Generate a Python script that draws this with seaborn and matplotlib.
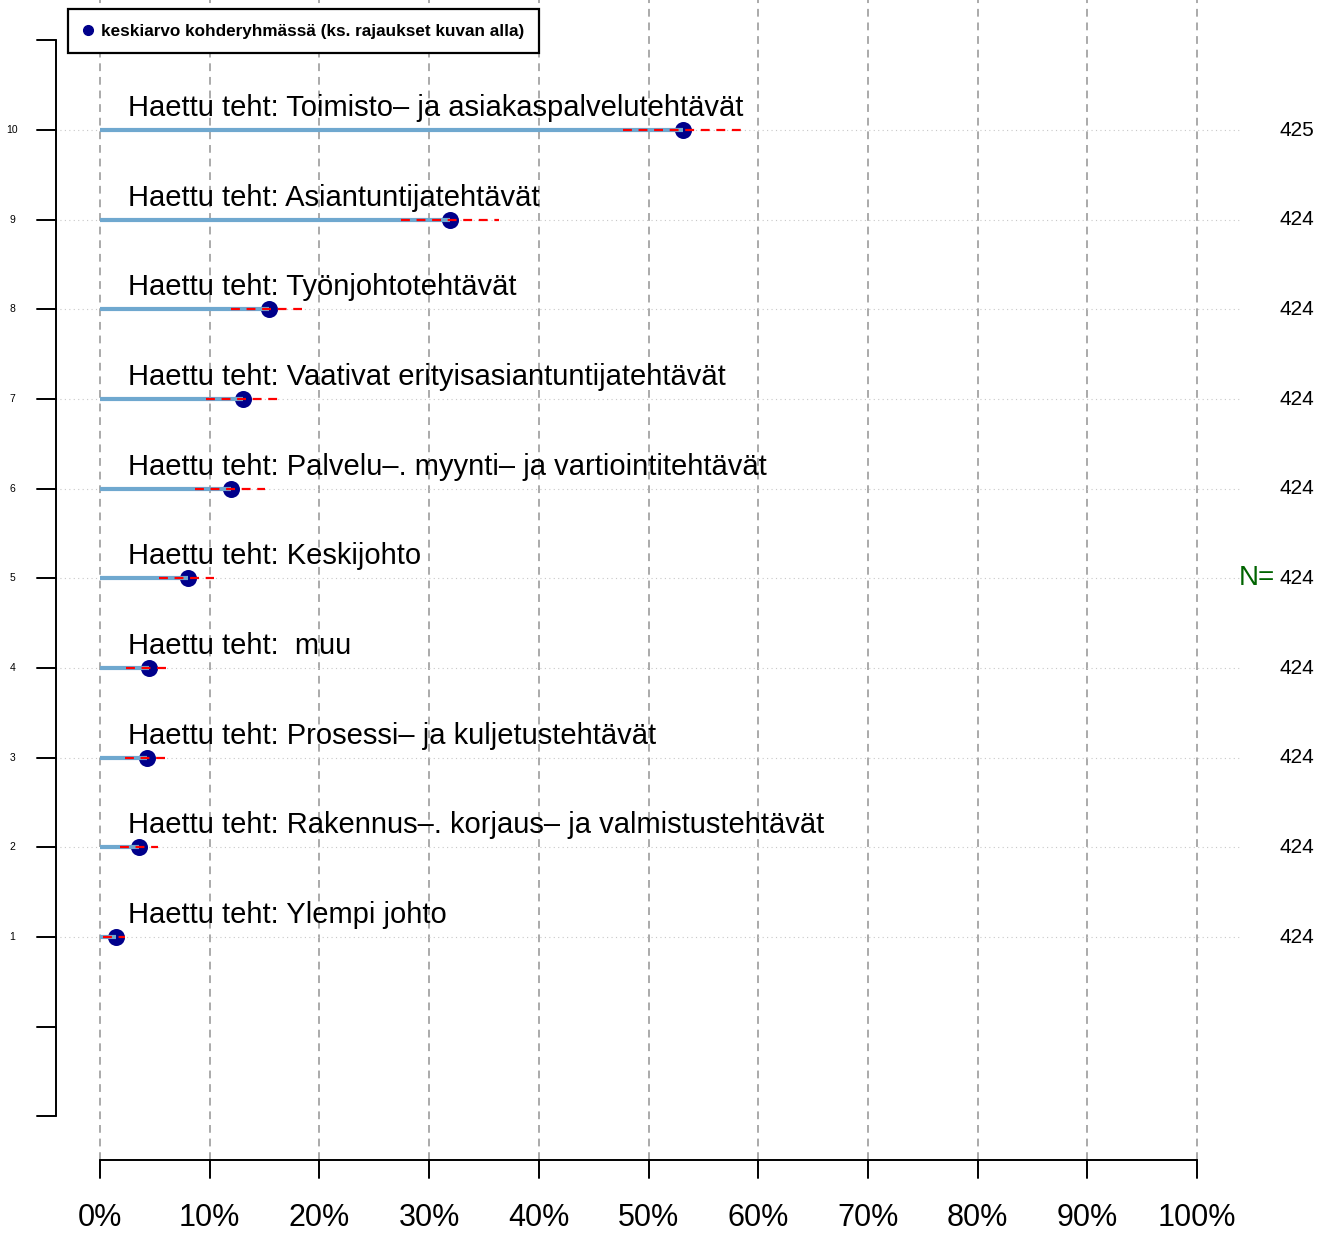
import matplotlib
matplotlib.use("Agg")
import matplotlib.pyplot as plt
import seaborn as sns
import pandas as pd
from matplotlib.lines import Line2D

sns.set_style("white")
plt.rcParams['font.family'] = ['Liberation Sans', 'DejaVu Sans']
plt.rcParams['text.color'] = 'black'

# data, row 10 at the top down to row 1
rows = [10, 9, 8, 7, 6, 5, 4, 3, 2, 1]
labels = [
    "Haettu teht: Toimisto\u2013 ja asiakaspalvelutehtävät",
    "Haettu teht: Asiantuntijatehtävät",
    "Haettu teht: Työnjohtotehtävät",
    "Haettu teht: Vaativat erityisasiantuntijatehtävät",
    "Haettu teht: Palvelu\u2013. myynti\u2013 ja vartiointitehtävät",
    "Haettu teht: Keskijohto",
    "Haettu teht:  muu",
    "Haettu teht: Prosessi\u2013 ja kuljetustehtävät",
    "Haettu teht: Rakennus\u2013. korjaus\u2013 ja valmistustehtävät",
    "Haettu teht: Ylempi johto",
]
means = [53.1, 31.9, 15.4, 13.0, 11.9, 8.0, 4.5, 4.25, 3.6, 1.45]
ci_low = [47.7, 27.4, 11.9, 9.7, 8.7, 5.4, 2.4, 2.3, 1.8, 0.25]
ci_high = [58.7, 36.4, 18.4, 16.2, 15.0, 10.4, 6.1, 5.9, 5.3, 2.3]
n_values = [425, 424, 424, 424, 424, 424, 424, 424, 424, 424]
xticks = list(range(0, 101, 10))

df = pd.DataFrame({"row": rows, "label": labels, "mean": means,
                   "lo": ci_low, "hi": ci_high, "n": n_values})

fig = plt.figure(figsize=(13.3, 12.34), dpi=100)
ax = fig.add_axes([0, 0, 1, 1])
ax.set_xlim(-9.116, 112.12)
ax.set_ylim(-2.312, 11.45)
ax.axis("off")

# vertical dashed grid
for t in xticks:
    ax.plot([t, t], [-1.487, 11.45], color="#AAAAAA", lw=1.4,
            dashes=(4, 3), zorder=1)

# horizontal dotted guides
for r in rows:
    ax.plot([-4.5, 103.9], [r, r], color="#C8C8C8", lw=0.8,
            dashes=(1, 3), zorder=1)

# means (drawn first, the bars go over them)
sns.scatterplot(data=df, x="mean", y="row", ax=ax, s=150, color="#00008B",
                edgecolor="#00008B", linewidth=0, zorder=3, legend=False)
ax.hlines(df["row"], 0, df["mean"], color="#6FA8CF", lw=3.0, zorder=4)
ax.hlines(df["row"], df["lo"], df["hi"], color="red", lw=1.6,
          linestyles=(0, (4, 3)), zorder=5)

for r, lab, n in zip(rows, labels, n_values):
    ax.text(2.55, r + 0.155, lab, fontsize=21, va="baseline", ha="left",
            zorder=6)
    ax.text(107.5, r, str(n), fontsize=15, va="center", ha="left")
ax.text(103.8, 5, "N=", fontsize=20, color="#006400", va="center", ha="left")

# left axis
ax.plot([-4.01, -4.01], [-1, 11], color="black", lw=1.4, clip_on=False)
for r in range(-1, 12):
    ax.plot([-5.75, -4.01], [r, r], color="black", lw=1.4)
    if 1 <= r <= 10:
        ax.text(-8.0, r, str(r), fontsize=7.5, va="center", ha="center")

# bottom axis
ax.plot([0, 100], [-1.487, -1.487], color="black", lw=1.4)
for t in xticks:
    ax.plot([t, t], [-1.487, -1.69], color="black", lw=1.4)
    ax.text(t, -2.13, f"{t}%", fontsize=22, va="center", ha="center")

# legend
handle = Line2D([], [], marker="o", color="#00008B", lw=0, markersize=7)
leg = ax.legend([handle], ["keskiarvo kohderyhmässä (ks. rajaukset kuvan alla)"],
                loc="upper left", bbox_to_anchor=(68 / 1330, 1 - 9 / 1234),
                bbox_transform=fig.transFigure, borderaxespad=0,
                frameon=True, fancybox=False, framealpha=1,
                prop={"size": 12.3, "weight": "bold"}, handlelength=0.6,
                handletextpad=0.5, borderpad=0.85)
leg.get_frame().set_edgecolor("black")
leg.get_frame().set_linewidth(1.6)

fig.savefig("out.png", dpi=100)
